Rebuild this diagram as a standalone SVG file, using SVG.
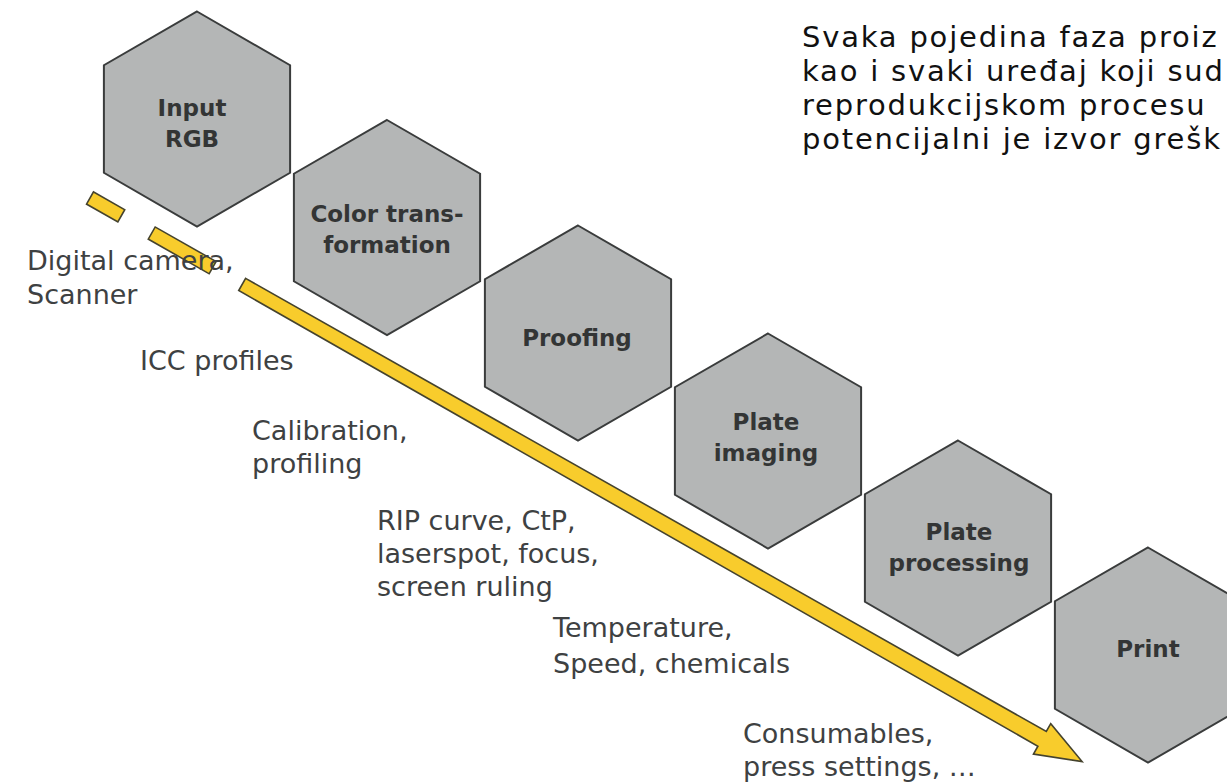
<svg xmlns="http://www.w3.org/2000/svg" width="1227" height="783" viewBox="0 0 1227 783">
<style>
.hex{fill:#b4b6b6;stroke:#3a3c3c;stroke-width:2;stroke-linejoin:miter}
.ht{font-family:"DejaVu Sans","Open Sans",sans-serif;font-weight:bold;font-size:23px;fill:#333535;text-anchor:middle}
.lb{font-family:"DejaVu Sans","Open Sans",sans-serif;font-size:27px;fill:#3e4142}
.tx{font-family:"DejaVu Sans","Open Sans",sans-serif;font-size:29px;letter-spacing:1.8px;fill:#111}
.arr{fill:#f8cc2c;stroke:#45432e;stroke-width:1.6;stroke-linejoin:miter}
</style>
<defs>
<polygon id="hx" class="hex" points="0,-107.5 93.1,-53.75 93.1,53.75 0,107.5 -93.1,53.75 -93.1,-53.75"/>
</defs>
<rect width="1227" height="783" fill="#ffffff"/>

<g id="connectors">
<g transform="translate(90,198) rotate(29.6)">
<rect class="arr" x="0" y="-7" width="36" height="14"/>
<rect class="arr" x="71" y="-7" width="70" height="14"/>
<polygon class="arr" points="175,-7 1095,-8.5 1095,-17.5 1141,0 1095,17.5 1095,8.5 175,7"/>
</g>
</g>

<g id="node-input">
<use href="#hx" x="197" y="119"/>
<text class="ht" x="192" y="116">Input</text>
<text class="ht" x="192" y="147">RGB</text>
</g>
<g id="node-color">
<use href="#hx" x="387" y="227.5"/>
<text class="ht" x="387" y="222">Color trans-</text>
<text class="ht" x="387" y="253">formation</text>
</g>
<g id="node-proofing">
<use href="#hx" x="578" y="333"/>
<text class="ht" x="577" y="346">Proofing</text>
</g>
<g id="node-plate-imaging">
<use href="#hx" x="768" y="441"/>
<text class="ht" x="766" y="430">Plate</text>
<text class="ht" x="766" y="461">imaging</text>
</g>
<g id="node-plate-processing">
<use href="#hx" x="958" y="548"/>
<text class="ht" x="959" y="540">Plate</text>
<text class="ht" x="959" y="571">processing</text>
</g>
<g id="node-print">
<use href="#hx" x="1148" y="655"/>
<text class="ht" x="1148" y="657">Print</text>
</g>

<g id="labels">
<text class="lb" x="27" y="270">Digital camera,</text>
<text class="lb" x="27" y="304">Scanner</text>
<text class="lb" x="140" y="370">ICC profiles</text>
<text class="lb" x="252" y="440">Calibration,</text>
<text class="lb" x="252" y="473">profiling</text>
<text class="lb" x="377" y="530">RIP curve, CtP,</text>
<text class="lb" x="377" y="563">laserspot, focus,</text>
<text class="lb" x="377" y="596">screen ruling</text>
<text class="lb" x="553" y="637">Temperature,</text>
<text class="lb" x="553" y="673">Speed, chemicals</text>
<text class="lb" x="743" y="743">Consumables,</text>
<text class="lb" x="743" y="776">press settings, …</text>
</g>

<g id="caption">
<text class="tx" x="802" y="47">Svaka pojedina faza proiz</text>
<text class="tx" x="802" y="81">kao i svaki uređaj koji sud</text>
<text class="tx" x="802" y="115">reprodukcijskom procesu</text>
<text class="tx" x="802" y="149">potencijalni je izvor grešk</text>
</g>
</svg>
